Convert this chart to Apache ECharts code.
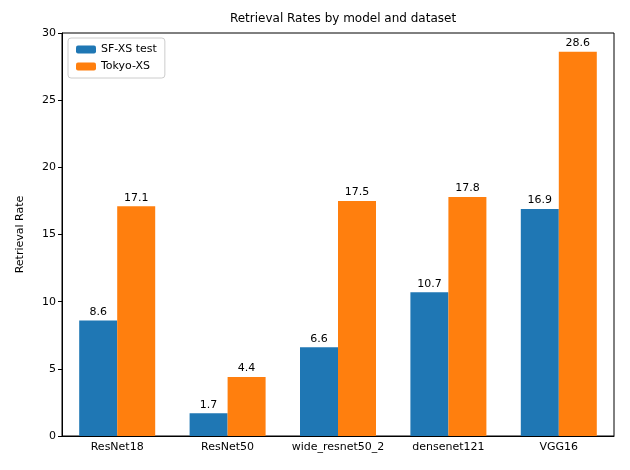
<!DOCTYPE html>
<html>
<head>
<meta charset="utf-8">
<script src="https://cdn.jsdelivr.net/npm/echarts@6/dist/echarts.min.js"></script>
<style>html,body{margin:0;padding:0;background:#fff}#chart{width:630px;height:470px}</style>
</head>
<body>
<div id="chart"></div>
<script>
var models = ['ResNet18', 'ResNet50', 'wide_resnet50_2', 'densenet121', 'VGG16'];
var sfxs = [8.6, 1.7, 6.6, 10.7, 16.9];
var tokyo = [17.1, 4.4, 17.5, 17.8, 28.6];

var chart = echarts.init(document.getElementById('chart'));
var font = 'DejaVu Sans';
var barLabel = { show: true, position: 'top', color: '#000', fontSize: 11, fontFamily: font, distance: 3 };

var option = {
    animation: false,
    textStyle: { fontFamily: font },
    title: {
        text: 'Retrieval Rates by model and dataset',
        left: 338, top: 8, textAlign: 'center',
        textStyle: { fontSize: 12, fontWeight: 'normal', color: '#000', fontFamily: font }
    },
    legend: {
        left: 68, top: 38, orient: 'vertical',
        itemWidth: 20, itemHeight: 8, itemGap: 6,
        borderColor: '#ccc', borderWidth: 1, borderRadius: 3, padding: [6, 8],
        textStyle: { fontSize: 11, color: '#000', fontFamily: font }
    },
    grid: { left: 62, right: 16, top: 33, bottom: 34, show: true, borderColor: '#000', borderWidth: 1, backgroundColor: 'transparent' },
    xAxis: {
        type: 'category', data: models,
        axisLine: { lineStyle: { color: '#000' } },
        axisTick: { alignWithLabel: true, lineStyle: { color: '#000' }, length: 4 },
        axisLabel: { color: '#000', fontSize: 11, margin: 6, interval: 0 }
    },
    yAxis: {
        type: 'value', min: 0, max: 30, interval: 5,
        name: 'Retrieval Rate', nameLocation: 'middle', nameGap: 36,
        nameTextStyle: { color: '#000', fontSize: 11 },
        axisLine: { show: true, lineStyle: { color: '#000' } },
        axisTick: { show: true, lineStyle: { color: '#000' }, length: 4 },
        axisLabel: { color: '#000', fontSize: 11, margin: 6 },
        splitLine: { show: false }
    },
    series: [
        { name: 'SF-XS test', type: 'bar', data: sfxs, barWidth: 38, barGap: '0%', itemStyle: { color: '#1f77b4' }, label: barLabel },
        { name: 'Tokyo-XS', type: 'bar', data: tokyo, barWidth: 38, itemStyle: { color: '#ff7f0e' }, label: barLabel }
    ]
};
chart.setOption(option);
</script>
</body>
</html>
